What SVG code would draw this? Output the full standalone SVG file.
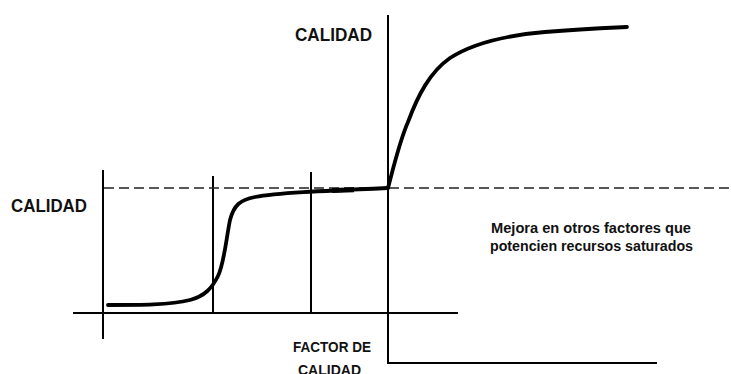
<svg xmlns="http://www.w3.org/2000/svg" width="731" height="374" viewBox="0 0 731 374">
<style>
.ax{stroke:#000;stroke-width:2;fill:none}
.dash{stroke:#222;stroke-width:1.7;stroke-dasharray:10 5;fill:none}
.crv{stroke:#000;stroke-width:3.8;fill:none;stroke-linecap:round;stroke-linejoin:round}
.lbl{font-family:"Liberation Sans",Arial,sans-serif;font-weight:bold;fill:#111}
</style>
<rect width="731" height="374" fill="#fff"/>
<g id="axes">
<line class="ax" x1="103" y1="170" x2="103" y2="339"/>
<line class="ax" x1="213" y1="176" x2="213" y2="314"/>
<line class="ax" x1="311" y1="172" x2="311" y2="314"/>
<line class="ax" x1="73" y1="313" x2="458" y2="313"/>
<line class="ax" x1="388" y1="15" x2="388" y2="364"/>
<line class="ax" x1="387" y1="363" x2="657" y2="363"/>
</g>
<g id="reference-line">
<line class="dash" x1="104" y1="188" x2="731" y2="188"/>
</g>
<g id="curves">
<path class="crv" d="M108,305 C140,305 170,305 190,300 C205,296 212,288 218,276 C224,264 226,240 230,220 C234,205 240,200 255,197 C275,193 320,191 388,188"/>
<line x1="332" y1="190.5" x2="354" y2="189.8" stroke="#000" stroke-width="5"/>
<path class="crv" d="M388,188 C394,165 400,140 408,122 C418,95 430,72 450,58 C475,42 510,35 545,32 C580,29 605,28 627,27"/>
</g>
<g id="labels">
<text class="lbl" x="11" y="212" font-size="17.5" textLength="76" lengthAdjust="spacingAndGlyphs">CALIDAD</text>
<text class="lbl" x="295" y="41" font-size="17.5" textLength="77" lengthAdjust="spacingAndGlyphs">CALIDAD</text>
<text class="lbl" x="293" y="352" font-size="14" textLength="78" lengthAdjust="spacingAndGlyphs">FACTOR DE</text>
<text class="lbl" x="298" y="375" font-size="14" textLength="63" lengthAdjust="spacingAndGlyphs">CALIDAD</text>
<text class="lbl" x="491" y="233" font-size="14" textLength="200" lengthAdjust="spacingAndGlyphs">Mejora en otros factores que</text>
<text class="lbl" x="490" y="251" font-size="14" textLength="203" lengthAdjust="spacingAndGlyphs">potencien recursos saturados</text>
</g>
</svg>
